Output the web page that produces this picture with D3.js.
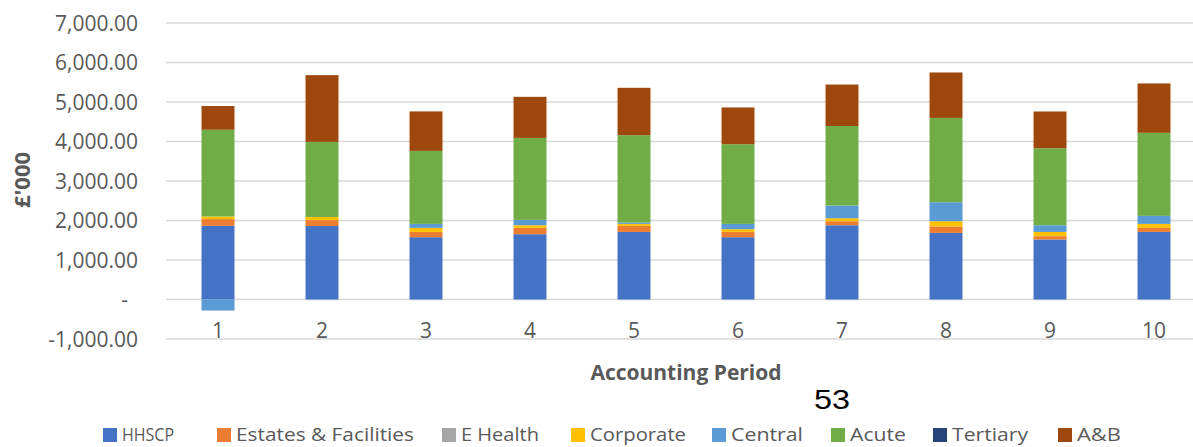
<!DOCTYPE html>
<html><head><meta charset="utf-8">
<script src="https://cdn.jsdelivr.net/npm/d3@7"></script>
<style>body{margin:0;background:#fff;overflow:hidden}</style>
</head><body><svg id="c" width="1193" height="447"></svg>
<script>
const periods = ["1","2","3","4","5","6","7","8","9","10"];
const seriesNames = ["HHSCP","Estates & Facilities","E Health","Corporate","Central","Acute","Tertiary","A&B"];
const hhscp    = [1866,1860,1577,1653,1711,1577,1880,1686,1519,1711];
const estates  = [170,150,134,160,152,134,102,162,84,102];
const eHealth  = [0,0,0,0,0,0,0,0,0,0];
const corporate= [66,80,102,68,51,69,76,134,108,101];
const central  = [-280,0,101,134,35,134,322,481,169,203];
const acute    = [2196,1900,1848,2076,2210,2018,2012,2134,1950,2103];
const tertiary = [0,0,0,0,0,0,0,0,0,0];
const ab       = [600,1690,1000,1040,1200,930,1050,1150,930,1250];
const yTicks = [-1000,0,1000,2000,3000,4000,5000,6000,7000];
const colors = ["#4472C4","#ED7D31","#A5A5A5","#FFC000","#5B9BD5","#70AD47","#264478","#9E480E"];

const seriesVals = [hhscp,estates,eHealth,corporate,central,acute,tertiary,ab];
const table = periods.map((p,i)=>{const o={period:p};seriesNames.forEach((s,j)=>o[s]=seriesVals[j][i]);return o;});
const stack = d3.stack().keys(seriesNames).offset(d3.stackOffsetDiverging)(table);

const svg = d3.select("#c");
const x = d3.scaleBand().domain(periods).range([166,1206]).paddingInner(0.683).paddingOuter(0.3415);
const y = d3.scaleLinear().domain([-1000,7000]).range([339,23]);
const font = "'Open Sans', sans-serif";

// gridlines
svg.append("g").selectAll("line").data(yTicks).join("line")
  .attr("x1",166).attr("x2",1193).attr("y1",d=>y(d)).attr("y2",d=>y(d))
  .attr("stroke","#d9d9d9").attr("stroke-width",1.5);

// y axis labels
const loc = d3.formatLocale({decimal:".",thousands:",",grouping:[3],currency:["£",""],minus:"-"});
const fmt = loc.format(",.2f");
const yAxis = d3.axisLeft(y).tickValues(yTicks).tickSize(0).tickPadding(0)
  .tickFormat(d=> d===0 ? "-" : fmt(d));
const gy = svg.append("g").attr("transform","translate(138,0)").call(yAxis);
gy.select(".domain").remove();
gy.selectAll("text").attr("font-family",font).attr("font-size",21).attr("fill","#595959").attr("dy","0.35em");
gy.selectAll(".tick").filter(d=>d===0).select("text").attr("dx",-10);

// bars
svg.append("g").selectAll("g").data(stack).join("g").attr("fill",(d,i)=>colors[i])
  .selectAll("rect").data(d=>d).join("rect")
  .attr("x",d=>x(d.data.period)).attr("width",x.bandwidth())
  .attr("y",d=>y(Math.max(d[0],d[1]))).attr("height",d=>Math.abs(y(d[0])-y(d[1])));

// x axis labels
const xAxis = d3.axisBottom(x).tickSize(0).tickPadding(0);
const gx = svg.append("g").attr("transform","translate(0,"+(y(-1000)-1)+")").call(xAxis);
gx.select(".domain").remove();
gx.selectAll("text").attr("font-family",font).attr("font-size",21).attr("fill","#595959").attr("dy","0");

// axis titles
svg.append("text").attr("x",686).attr("y",380).attr("text-anchor","middle")
  .attr("font-family",font).attr("font-size",21).attr("font-weight","bold").attr("fill","#595959").text("Accounting Period");
svg.append("text").attr("transform","translate(30,180) rotate(-90)").attr("text-anchor","middle")
  .attr("font-family",font).attr("font-size",22).attr("font-weight","bold").attr("fill","#595959").text("£'000");
svg.append("text").attr("x",832).attr("y",409).attr("text-anchor","middle")
  .attr("font-family","'Liberation Sans', Arial, sans-serif").attr("font-size",27)
  .attr("textLength",36).attr("lengthAdjust","spacingAndGlyphs").attr("fill","#000").text("53");

// legend
const legX = [103,217,442,571,712,831,933,1058];
const legW = [52,178,78,96,72,56,76,44];
const leg = svg.append("g").selectAll("g").data(seriesNames).join("g")
  .attr("transform",(d,i)=>"translate("+legX[i]+",435)");
leg.append("rect").attr("x",0).attr("y",-7).attr("width",14).attr("height",14).attr("fill",(d,i)=>colors[i]);
leg.append("text").attr("x",19).attr("y",0).attr("dy","0.35em")
  .attr("textLength",(d,i)=>legW[i]).attr("lengthAdjust","spacingAndGlyphs")
  .attr("font-family",font).attr("font-size",18).attr("fill","#595959").text(d=>d);
</script></body></html>
